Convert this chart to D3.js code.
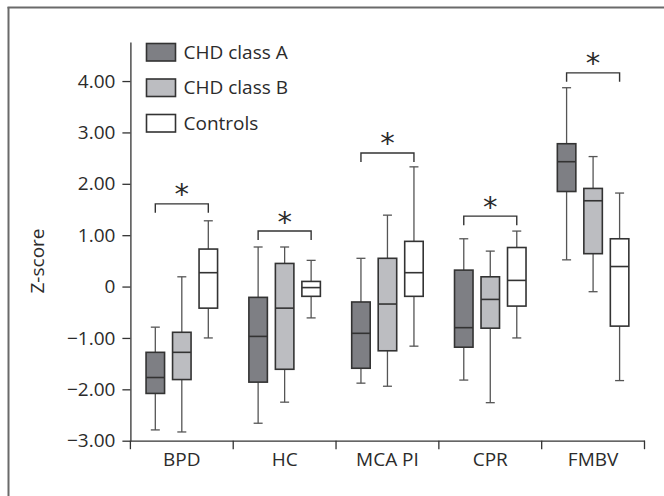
<!DOCTYPE html>
<html>
<head>
<meta charset="utf-8">
<script src="https://cdn.jsdelivr.net/npm/d3@7"></script>
<style>
  html, body { margin: 0; padding: 0; background: #fff; }
  svg { display: block; }
  text { font-family: "Open Sans", "Noto Sans", sans-serif; fill: #2b2b2b; }
</style>
</head>
<body>
<svg id="chart" width="664" height="496"></svg>
<script>
// ---- data ----
const categories = ["BPD", "HC", "MCA PI", "CPR", "FMBV"];
const groups = ["CHD class A", "CHD class B", "Controls"];
const yTicks = [-3, -2, -1, 0, 1, 2, 3, 4];
// [whiskerLow, q1, median, q3, whiskerHigh] per category
const classA = [
  [-2.79, -2.08, -1.77, -1.28, -0.79],
  [-2.66, -1.86, -0.97, -0.21, 0.77],
  [-1.88, -1.59, -0.91, -0.30, 0.55],
  [-1.82, -1.18, -0.80, 0.32, 0.93],
  [0.52, 1.85, 2.43, 2.78, 3.87]
];
const classB = [
  [-2.83, -1.81, -1.28, -0.89, 0.19],
  [-2.25, -1.61, -0.42, 0.45, 0.77],
  [-1.94, -1.25, -0.34, 0.55, 1.39],
  [-2.26, -0.81, -0.25, 0.19, 0.69],
  [-0.10, 0.64, 1.67, 1.91, 2.53]
];
const controls = [
  [-1.00, -0.42, 0.27, 0.73, 1.28],
  [-0.61, -0.19, -0.02, 0.10, 0.51],
  [-1.16, -0.19, 0.27, 0.88, 2.33],
  [-1.00, -0.38, 0.12, 0.76, 1.08],
  [-1.83, -0.77, 0.39, 0.93, 1.82]
];
// significance bracket level (Z-score units) per category, bracket spans class A to Controls
const sigLevels = [1.61, 1.08, 2.60, 1.37, 4.16];

const seriesValues = [classA, classB, controls];
const fills = ["#7e7f84", "#bcbdc1", "#ffffff"];

// ---- layout ----
const svg = d3.select("#chart");
const axisColor = "#333";
const fontSize = 19;

// frame (cropped border: left and top)
svg.append("line").attr("x1", 8.5).attr("x2", 8.5).attr("y1", 7).attr("y2", 496)
  .attr("stroke", "#6a6a6a").attr("stroke-width", 2);
svg.append("line").attr("x1", 7.5).attr("x2", 664).attr("y1", 7.5).attr("y2", 7.5)
  .attr("stroke", "#6a6a6a").attr("stroke-width", 2);

const y = d3.scaleLinear().domain([-3, 4.76]).range([440.7, 42]);
const x = d3.scaleBand().domain(categories).range([130.4, 644.5]).padding(0);
const bw = x.bandwidth();
const xg = d3.scalePoint().domain(groups).range([bw / 2 - 26.5, bw / 2 + 26.5]);
const boxW = 18.5;

// y axis
const yAxis = d3.axisLeft(y)
  .tickValues(yTicks)
  .tickSize(8)
  .tickSizeOuter(0)
  .tickPadding(7)
  .tickFormat(d => d === 0 ? "0" : d3.format(".2f")(d));
const gy = svg.append("g").attr("transform", "translate(130.4,0)").call(yAxis);
gy.select(".domain").attr("stroke", axisColor).attr("stroke-width", 1.3);
gy.selectAll(".tick line").attr("stroke", axisColor).attr("stroke-width", 1.3);
gy.selectAll(".tick text").attr("font-size", fontSize).attr("fill", "#2b2b2b")
  .style("font-family", '"Open Sans", sans-serif');

// x axis
const xAxis = d3.axisBottom(x).tickSize(0).tickPadding(12).tickSizeOuter(0);
const gx = svg.append("g").attr("transform", `translate(0,${y(-3)})`).call(xAxis);
gx.select(".domain").attr("stroke", axisColor).attr("stroke-width", 1.3);
gx.selectAll(".tick text").attr("font-size", fontSize).attr("fill", "#2b2b2b")
  .style("font-family", '"Open Sans", sans-serif');
const bounds = categories.map(c => x(c)).concat([x(categories[categories.length - 1]) + bw]);
gx.selectAll(".bound").data(bounds).enter().append("line")
  .attr("x1", d => d).attr("x2", d => d).attr("y1", 0).attr("y2", 8.5)
  .attr("stroke", axisColor).attr("stroke-width", 1.3);

// y label
svg.append("text")
  .attr("transform", "translate(43.5,261) rotate(-90)")
  .attr("text-anchor", "middle")
  .attr("font-size", fontSize)
  .text("Z-score");

// boxes
const plot = svg.append("g");
seriesValues.forEach((series, gi) => {
  const g = groups[gi];
  series.forEach((v, ci) => {
    const cx = x(categories[ci]) + xg(g);
    const [lo, q1, med, q3, hi] = v;
    const b = plot.append("g");
    b.append("line").attr("x1", cx).attr("x2", cx).attr("y1", y(hi)).attr("y2", y(q3))
      .attr("stroke", "#555").attr("stroke-width", 1.3);
    b.append("line").attr("x1", cx).attr("x2", cx).attr("y1", y(q1)).attr("y2", y(lo))
      .attr("stroke", "#555").attr("stroke-width", 1.3);
    [hi, lo].forEach(w => {
      b.append("line").attr("x1", cx - 4.5).attr("x2", cx + 4.5).attr("y1", y(w)).attr("y2", y(w))
        .attr("stroke", "#555").attr("stroke-width", 1.3);
    });
    b.append("rect")
      .attr("x", cx - boxW / 2).attr("width", boxW)
      .attr("y", y(q3)).attr("height", y(q1) - y(q3))
      .attr("fill", fills[gi]).attr("stroke", "#333").attr("stroke-width", 1.6);
    b.append("line").attr("x1", cx - boxW / 2).attr("x2", cx + boxW / 2)
      .attr("y1", y(med)).attr("y2", y(med))
      .attr("stroke", "#333").attr("stroke-width", 1.6);
  });
});

// significance brackets
sigLevels.forEach((lvl, ci) => {
  const x1 = x(categories[ci]) + xg(groups[0]);
  const x2 = x(categories[ci]) + xg(groups[2]);
  const yy = y(lvl);
  svg.append("path")
    .attr("d", `M${x1},${yy + 9}V${yy}H${x2}V${yy + 9}`)
    .attr("fill", "none").attr("stroke", "#333").attr("stroke-width", 1.4);
  svg.append("text")
    .attr("x", (x1 + x2) / 2).attr("y", yy + 0.5)
    .attr("text-anchor", "middle")
    .attr("font-size", 29)
    .style("font-family", '"DejaVu Sans", sans-serif')
    .text("*");
});

// legend
const legend = svg.append("g");
groups.forEach((g, i) => {
  const ly = 43.5 + i * 35.5;
  legend.append("rect").attr("x", 146.5).attr("y", ly).attr("width", 29).attr("height", 17.5)
    .attr("fill", fills[i]).attr("stroke", "#333").attr("stroke-width", 1.6);
  legend.append("text").attr("x", 183.5).attr("y", ly + 15.3)
    .attr("font-size", fontSize).text(g);
});
</script>
</body>
</html>
